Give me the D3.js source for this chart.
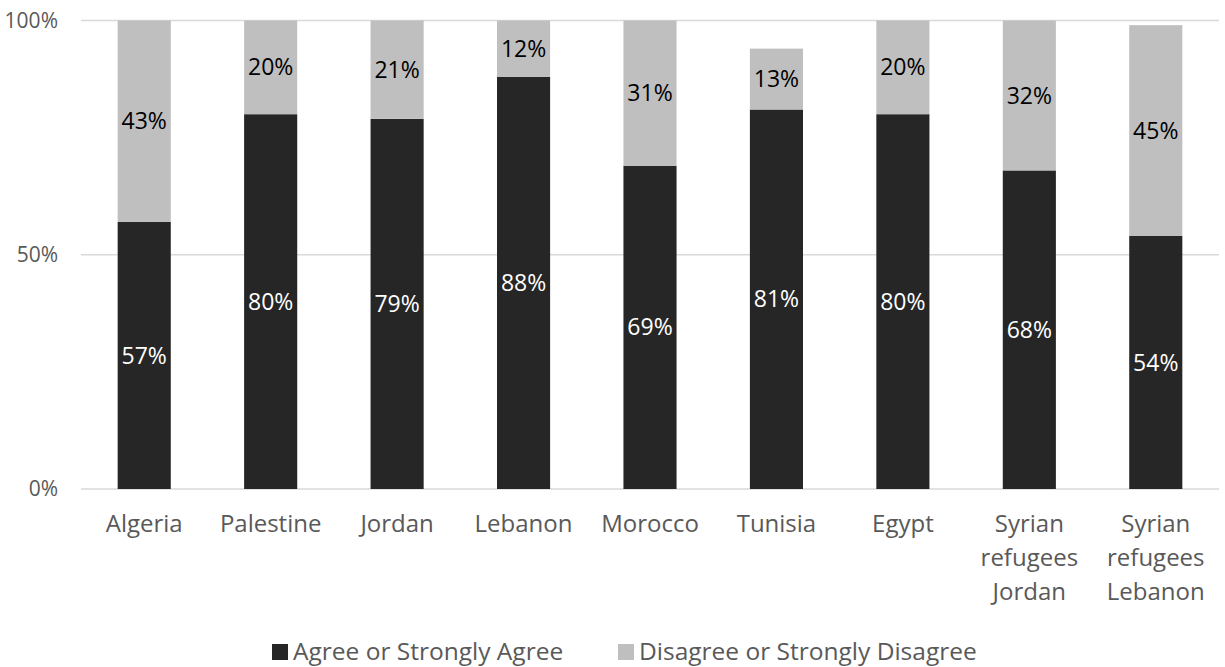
<!DOCTYPE html>
<html>
<head>
<meta charset="utf-8">
<script src="https://cdn.jsdelivr.net/npm/d3@7"></script>
<style>
  html, body { margin: 0; padding: 0; background: #fff; }
  svg { display: block; font-family: "Open Sans", "Noto Sans", sans-serif; }
</style>
</head>
<body>
<svg id="chart" width="1225" height="667"></svg>
<script>
// Survey responses by country / group (percent)
const categories = [
  ["Algeria"], ["Palestine"], ["Jordan"], ["Lebanon"], ["Morocco"],
  ["Tunisia"], ["Egypt"], ["Syrian", "refugees", "Jordan"], ["Syrian", "refugees", "Lebanon"]
];
const agree    = [57, 80, 79, 88, 69, 81, 80, 68, 54];
const disagree = [43, 20, 21, 12, 31, 13, 20, 32, 45];
const seriesNames = ["Agree or Strongly Agree", "Disagree or Strongly Disagree"];
const yTicks = [0, 50, 100];

const colors = ["#262626", "#bfbfbf"];
const labelColors = ["#ffffff", "#000000"];

const svg = d3.select("#chart");
const margin = { left: 81, right: 6, top: 20.5, bottom: 178 };
const W = 1225, H = 667;

const keys = categories.map(c => c.join(" "));
const x = d3.scaleBand().domain(keys).range([margin.left, W - margin.right]).paddingInner(0.58).paddingOuter(0.29);
const y = d3.scaleLinear().domain([0, 100]).range([H - margin.bottom, margin.top]);

// gridlines
svg.append("g").selectAll("line").data(yTicks).join("line")
  .attr("x1", margin.left).attr("x2", W - margin.right)
  .attr("y1", d => y(d)).attr("y2", d => y(d))
  .attr("stroke", "#d9d9d9").attr("stroke-width", 1.3);

// y axis labels
const yAxis = d3.axisLeft(y).tickValues(yTicks).tickFormat(d => d + "%").tickSize(0).tickPadding(0);
const gy = svg.append("g").attr("transform", `translate(58,0)`).call(yAxis);
gy.select(".domain").remove();
gy.selectAll("text").attr("font-size", 21).attr("fill", "#595959").attr("font-family", "Open Sans");

// stacked bars
const rows = keys.map((k, i) => ({ key: k, agree: agree[i], disagree: disagree[i] }));
const stack = d3.stack().keys(["agree", "disagree"])(rows);

stack.forEach((layer, li) => {
  const g = svg.append("g");
  g.selectAll("rect").data(layer).join("rect")
    .attr("x", d => x(d.data.key))
    .attr("width", x.bandwidth())
    .attr("y", d => y(d[1]))
    .attr("height", d => y(d[0]) - y(d[1]))
    .attr("fill", colors[li]);
  g.selectAll("text").data(layer).join("text")
    .attr("x", d => x(d.data.key) + x.bandwidth() / 2)
    .attr("y", d => (y(d[0]) + y(d[1])) / 2)
    .attr("dy", "0.35em")
    .attr("text-anchor", "middle")
    .attr("font-size", 23)
    .attr("fill", labelColors[li])
    .text(d => (d[1] - d[0]) + "%");
});

// category labels
const gx = svg.append("g");
categories.forEach((lines, i) => {
  const t = gx.append("text")
    .attr("x", x(keys[i]) + x.bandwidth() / 2)
    .attr("y", 532)
    .attr("text-anchor", "middle")
    .attr("font-size", 24)
    .attr("fill", "#595959");
  lines.forEach((ln, j) => {
    t.append("tspan").attr("x", x(keys[i]) + x.bandwidth() / 2).attr("y", 532 + j * 34).text(ln);
  });
});

// legend
const legendX = [272, 618];
const lg = svg.append("g");
seriesNames.forEach((name, i) => {
  lg.append("rect").attr("x", legendX[i]).attr("y", 644).attr("width", 16).attr("height", 16).attr("fill", colors[i]);
  lg.append("text").attr("x", legendX[i] + 21).attr("y", 660)
    .attr("font-size", 24.5).attr("fill", "#595959").text(name);
});
</script>
</body>
</html>
